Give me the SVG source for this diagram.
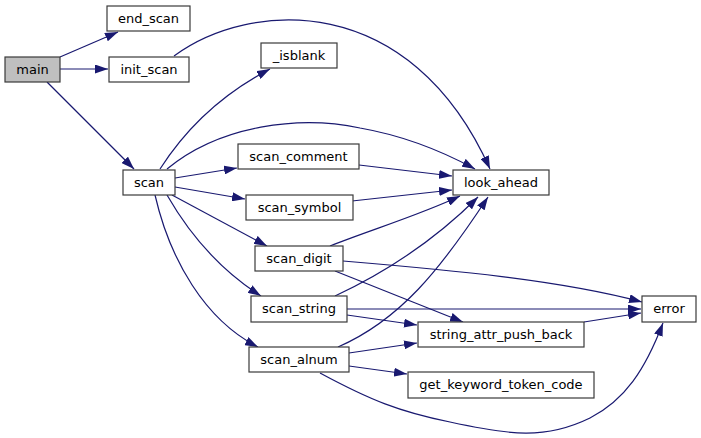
<svg xmlns="http://www.w3.org/2000/svg" width="701" height="438" viewBox="0 0 701 438">
<style>
.n rect{fill:#ffffff;stroke:#3a3a3a;stroke-width:1.2}
.n text{font-family:"DejaVu Sans",sans-serif;font-size:13px;fill:#000;text-anchor:middle}
.e path{fill:none;stroke:#191970;stroke-width:1.2;marker-end:url(#a)}
</style>
<defs>
<marker id="a" viewBox="0 0 13 9" refX="13" refY="4.5" markerWidth="13" markerHeight="9" markerUnits="userSpaceOnUse" orient="auto">
<polygon points="0,0 13,4.5 0,9" fill="#191970"/>
</marker>
</defs>
<rect width="701" height="438" fill="#ffffff"/>
<g class="e" id="edges">
<path d="M60,57 L118,32"/>
<path d="M60,69 L108,69"/>
<path d="M47,82 L134,169"/>
<path d="M174,56 C250,0 410,-10 490,169"/>
<path d="M160,169 C185,130 220,95 270,69"/>
<path d="M167,169 C220,125 300,115 360,128 C400,135 440,150 475,169"/>
<path d="M175,178 L237,168"/>
<path d="M175,187 L245,199"/>
<path d="M172,195 L267,246"/>
<path d="M167,195 C190,235 220,270 261,296"/>
<path d="M155,195 C170,260 205,320 258,347"/>
<path d="M359,165 L452,176"/>
<path d="M352,201 L452,190"/>
<path d="M330,246 C370,230 420,215 460,196"/>
<path d="M343,261 C450,270 560,280 642,302"/>
<path d="M335,271 L463,322"/>
<path d="M335,296 C380,275 430,245 478,197"/>
<path d="M347,309 L641,309"/>
<path d="M347,315 L417,325"/>
<path d="M338,347 C400,320 440,270 488,197"/>
<path d="M349,353 L417,343"/>
<path d="M349,366 L407,374"/>
<path d="M320,373 C370,400 400,412 450,422 C510,435 545,440 590,418 C625,400 645,370 663,323"/>
<path d="M584,322 L641,313"/>
</g>
<g class="n" id="main"><rect x="5" y="57" width="55" height="25" style="fill:#bfbfbf"/><text x="32.5" y="74">main</text></g>
<g class="n" id="end_scan"><rect x="107" y="6" width="83" height="25"/><text x="148.5" y="23">end_scan</text></g>
<g class="n" id="init_scan"><rect x="109" y="57" width="80" height="25"/><text x="149" y="74">init_scan</text></g>
<g class="n" id="isblank"><rect x="261" y="43" width="76" height="25"/><text x="299" y="60">_isblank</text></g>
<g class="n" id="scan"><rect x="123" y="170" width="52" height="25"/><text x="149" y="187">scan</text></g>
<g class="n" id="scan_comment"><rect x="238" y="144" width="121" height="25"/><text x="298.5" y="161">scan_comment</text></g>
<g class="n" id="look_ahead"><rect x="453" y="170" width="96" height="25"/><text x="501" y="187">look_ahead</text></g>
<g class="n" id="scan_symbol"><rect x="246" y="195" width="107" height="25"/><text x="299.5" y="212">scan_symbol</text></g>
<g class="n" id="scan_digit"><rect x="255" y="246" width="88" height="25"/><text x="299" y="263">scan_digit</text></g>
<g class="n" id="scan_string"><rect x="251" y="296" width="96" height="26"/><text x="299" y="313">scan_string</text></g>
<g class="n" id="scan_alnum"><rect x="249" y="347" width="100" height="25"/><text x="299" y="364">scan_alnum</text></g>
<g class="n" id="error"><rect x="642" y="296" width="54" height="26"/><text x="669" y="313">error</text></g>
<g class="n" id="string_attr_push_back"><rect x="418" y="322" width="166" height="25"/><text x="501" y="339">string_attr_push_back</text></g>
<g class="n" id="get_keyword_token_code"><rect x="408" y="372" width="186" height="26"/><text x="501" y="389">get_keyword_token_code</text></g>
</svg>
